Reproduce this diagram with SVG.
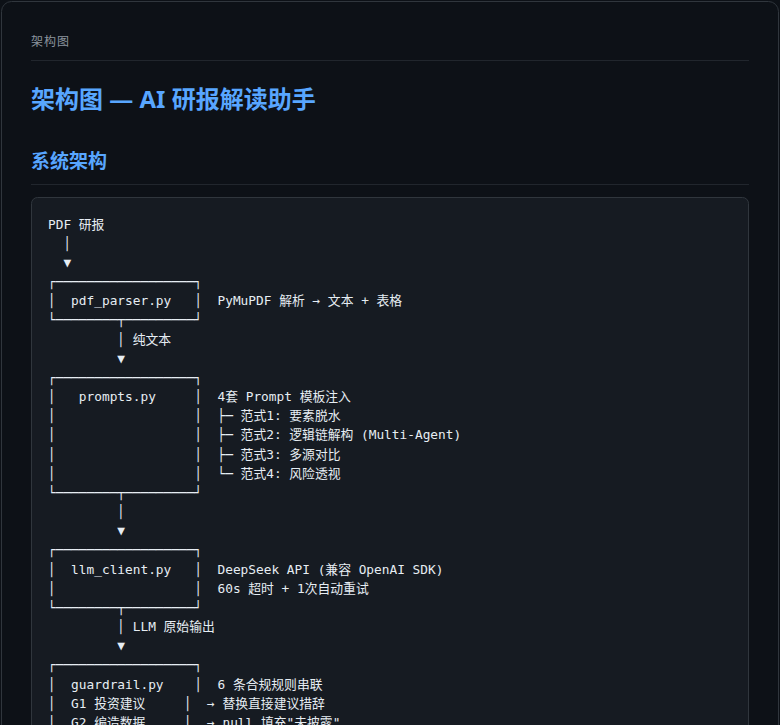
<svg xmlns="http://www.w3.org/2000/svg" width="780" height="725" viewBox="0 0 780 725">
<style>
.bg{fill:#0d1117}
.card{fill:#0d1117;stroke:#30363d;stroke-width:1}
.hr{stroke:#21262d;stroke-width:1}
.label{font-family:"Noto Sans CJK SC","Noto Sans",sans-serif;font-size:12px;fill:#8b949e;letter-spacing:1px}
.h1{font-family:"Noto Sans","Noto Sans CJK SC",sans-serif;font-size:24px;font-weight:bold;fill:#58a6ff}
.h2{font-family:"Noto Sans","Noto Sans CJK SC",sans-serif;font-size:19px;font-weight:bold;fill:#58a6ff}
.code{fill:#161b22;stroke:#30363d;stroke-width:1}
.t{font-family:"DejaVu Sans Mono","Noto Sans CJK SC",monospace;font-size:12.8px;fill:#e6edf3;white-space:pre}
</style>
<rect class="bg" x="0" y="0" width="780" height="725"/>
<rect class="card" x="1.5" y="1.5" width="777" height="800" rx="10"/>
<text class="label" x="31" y="46">架构图</text>
<line class="hr" x1="31" y1="60.5" x2="749" y2="60.5"/>
<text class="h1" x="31" y="108">架构图 — AI 研报解读助手</text>
<text class="h2" x="31" y="168">系统架构</text>
<line class="hr" x1="31" y1="184.5" x2="749" y2="184.5"/>
<rect class="code" x="31.5" y="197.5" width="717" height="560" rx="6"/>

<g id="node-pdf">
<text class="t" x="48" y="228.5" xml:space="preserve">PDF 研报</text>
</g>

<g id="node-pdf-parser">
<text class="t" x="48" y="286" xml:space="preserve">┌──────────────────┐</text>
<text class="t" x="48" y="305.2" xml:space="preserve">│  pdf_parser.py   │  PyMuPDF 解析 → 文本 + 表格</text>
<text class="t" x="48" y="324.3" xml:space="preserve">└────────┬─────────┘</text>
</g>

<g id="node-prompts">
<text class="t" x="48" y="381.8" xml:space="preserve">┌──────────────────┐</text>
<text class="t" x="48" y="401" xml:space="preserve">│   prompts.py     │  4套 Prompt 模板注入</text>
<text class="t" x="48" y="420.2" xml:space="preserve">│                  │  ├─ 范式1: 要素脱水</text>
<text class="t" x="48" y="439.3" xml:space="preserve">│                  │  ├─ 范式2: 逻辑链解构 (Multi-Agent)</text>
<text class="t" x="48" y="458.5" xml:space="preserve">│                  │  ├─ 范式3: 多源对比</text>
<text class="t" x="48" y="477.7" xml:space="preserve">│                  │  └─ 范式4: 风险透视</text>
<text class="t" x="48" y="496.9" xml:space="preserve">└────────┬─────────┘</text>
</g>

<g id="node-llm-client">
<text class="t" x="48" y="554.4" xml:space="preserve">┌──────────────────┐</text>
<text class="t" x="48" y="573.5" xml:space="preserve">│  llm_client.py   │  DeepSeek API (兼容 OpenAI SDK)</text>
<text class="t" x="48" y="592.7" xml:space="preserve">│                  │  60s 超时 + 1次自动重试</text>
<text class="t" x="48" y="611.9" xml:space="preserve">└────────┬─────────┘</text>
</g>

<g id="node-guardrail">
<text class="t" x="48" y="669.4" xml:space="preserve">┌──────────────────┐</text>
<text class="t" x="48" y="688.5" xml:space="preserve">│  guardrail.py    │  6 条合规规则串联</text>
<text class="t" x="48" y="707.7" xml:space="preserve">│  G1 投资建议     │  → 替换直接建议措辞</text>
<text class="t" x="48" y="726.9" xml:space="preserve">│  G2 编造数据     │  → null 填充"未披露"</text>
</g>

<g id="connectors">
<text class="t" x="48" y="247.7" xml:space="preserve">  │</text>
<text class="t" x="48" y="266.8" xml:space="preserve">  ▼</text>
<text class="t" x="48" y="343.5" xml:space="preserve">         │ 纯文本</text>
<text class="t" x="48" y="362.6" xml:space="preserve">         ▼</text>
<text class="t" x="48" y="516" xml:space="preserve">         │</text>
<text class="t" x="48" y="535.2" xml:space="preserve">         ▼</text>
<text class="t" x="48" y="631" xml:space="preserve">         │ LLM 原始输出</text>
<text class="t" x="48" y="650.2" xml:space="preserve">         ▼</text>
</g>
</svg>
